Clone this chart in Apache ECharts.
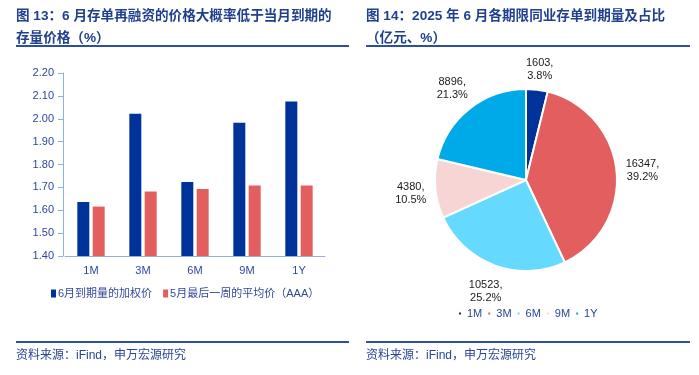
<!DOCTYPE html>
<html>
<head>
<meta charset="utf-8">
<script src="https://cdn.jsdelivr.net/npm/echarts@6/dist/echarts.min.js"></script>
<style>
  html, body { margin: 0; padding: 0; background: #fff; }
  #chart { width: 699px; height: 375px; }
</style>
</head>
<body>
<div id="chart"></div>
<script>
  const FONT = "'Liberation Sans', 'Noto Sans CJK SC', sans-serif"
  const NAVY = '#2a4596'
  const AXIS_TEXT = '#2b47a0'

  // left: bar chart
  const tenors = ['1M', '3M', '6M', '9M', '1Y']
  const juneWeighted = [1.636, 2.022, 1.723, 1.983, 2.075]
  const mayLastWeek = [1.616, 1.682, 1.693, 1.708, 1.708]
  const barNames = ['6月到期量的加权价', '5月最后一周的平均价（AAA）']
  const yTicks = { min: 1.4, max: 2.2, interval: 0.1 }

  // right: pie chart
  const pieNames = ['1M', '3M', '6M', '9M', '1Y']
  const pieValues = [1603, 16347, 10523, 4380, 8896]
  const piePct = ['3.8%', '39.2%', '25.2%', '10.5%', '21.3%']
  const pieColors = ['#003399', '#e35f5f', '#66d9ff', '#f8d5d5', '#00aae8']

  const PIE_CENTER = [526, 180]
  const PIE_R = 91
  const LABEL_GAP = 8

  // mid angle of each slice (clockwise from 12 o'clock)
  const pieTotal = pieValues.reduce((a, b) => a + b, 0)
  const midAngles = []
  let acc = 0
  pieValues.forEach(v => {
    midAngles.push((acc + v / 2) / pieTotal * Math.PI * 2)
    acc += v
  })

  // Excel-like label placement: label box just outside the rim, centred on the radial
  function placePieLabel(params) {
    const a = midAngles[params.dataIndex]
    const s = Math.sin(a), c = Math.cos(a)
    const w = params.labelRect.width, h = params.labelRect.height
    const d = PIE_R + LABEL_GAP + Math.abs(s) * w / 2 + Math.abs(c) * h / 2
    return {
      x: PIE_CENTER[0] + d * s,
      y: PIE_CENTER[1] - d * c + 2,
      align: 'center',
      verticalAlign: 'middle',
    }
  }

  const chart = echarts.init(document.getElementById('chart'), null, { renderer: 'canvas' })

  const option = {
    animation: false,
    textStyle: { fontFamily: FONT },
    title: [
      {
        text: '图 13：6 月存单再融资的价格大概率低于当月到期的\n存量价格（%）',
        left: 16, top: 5, padding: 0,
        textStyle: { fontSize: 13.6, fontWeight: 'bold', color: '#1f3f8f', lineHeight: 22, fontFamily: FONT },
      },
      {
        text: '图 14：2025 年 6 月各期限同业存单到期量及占比\n（亿元、%）',
        left: 366, top: 5, padding: 0,
        textStyle: { fontSize: 13.6, fontWeight: 'bold', color: '#1f3f8f', lineHeight: 22, fontFamily: FONT },
      },
    ],
    graphic: [
      { type: 'line', shape: { x1: 16, y1: 46, x2: 349, y2: 46 }, style: { stroke: '#2e4fa0', lineWidth: 2 } },
      { type: 'line', shape: { x1: 366, y1: 46, x2: 690, y2: 46 }, style: { stroke: '#2e4fa0', lineWidth: 2 } },
      { type: 'line', shape: { x1: 16, y1: 342, x2: 349, y2: 342 }, style: { stroke: '#2e4fa0', lineWidth: 2 } },
      { type: 'line', shape: { x1: 366, y1: 342, x2: 690, y2: 342 }, style: { stroke: '#2e4fa0', lineWidth: 2 } },
      { type: 'text', left: 16, top: 350, style: { text: '资料来源：iFind，申万宏源研究', fontSize: 12, fill: NAVY, fontFamily: FONT } },
      { type: 'text', left: 366, top: 350, style: { text: '资料来源：iFind，申万宏源研究', fontSize: 12, fill: NAVY, fontFamily: FONT } },
    ],
    legend: [
      {
        data: barNames,
        left: 46, top: 283,
        itemWidth: 5, itemHeight: 8, itemGap: 11,
        icon: 'rect',
        textStyle: { fontSize: 11, color: '#34479a', padding: [0, 0, 0, -3] },
      },
      {
        data: pieNames,
        left: 452, top: 303,
        itemWidth: 4, itemHeight: 4, itemGap: 4,
        icon: 'rect',
        textStyle: { fontSize: 11, color: NAVY },
      },
    ],
    grid: { left: 65, right: 374, top: 73, bottom: 119 },
    xAxis: {
      type: 'category',
      data: tenors,
      axisLine: { lineStyle: { color: '#8fb0e0' } },
      axisTick: { lineStyle: { color: '#8fb0e0' } },
      axisLabel: { color: AXIS_TEXT, fontSize: 11, margin: 9 },
    },
    yAxis: {
      type: 'value',
      offset: 2,
      min: yTicks.min, max: yTicks.max, interval: yTicks.interval,
      axisLine: { show: true, lineStyle: { color: '#8fb0e0' } },
      axisTick: { show: true, lineStyle: { color: '#8fb0e0' } },
      axisLabel: { color: AXIS_TEXT, fontSize: 11, margin: 9, formatter: v => v.toFixed(2) },
      splitLine: { show: false },
    },
    series: [
      {
        name: barNames[0], type: 'bar', data: juneWeighted,
        color: '#003399', barWidth: 12, barGap: '28%',
      },
      {
        name: barNames[1], type: 'bar', data: mayLastWeek,
        color: '#e35f5f', barWidth: 12,
      },
      {
        name: 'pie', type: 'pie',
        center: PIE_CENTER, radius: PIE_R,
        startAngle: 90, clockwise: true,
        data: pieNames.map((n, i) => ({ name: n, value: pieValues[i], pct: piePct[i], itemStyle: { color: pieColors[i] } })),
        itemStyle: { borderColor: '#fff', borderWidth: 2 },
        label: {
          show: true, position: 'outside',
          color: '#1a1a1a', fontSize: 11, lineHeight: 13,
          formatter: p => `${p.value},\n${p.data.pct}`,
        },
        labelLine: { show: false, length: 8, length2: 0 },
        labelLayout: placePieLabel,
      },
    ],
  }

  chart.setOption(option)
</script>
</body>
</html>
